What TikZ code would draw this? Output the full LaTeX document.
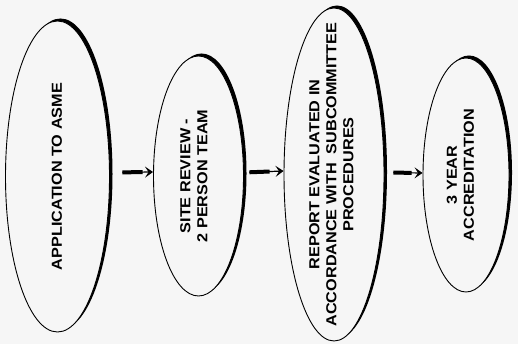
\documentclass[tikz,border=0pt]{standalone}
\usepackage{fontspec}
\setmainfont{Liberation Sans}
\usepackage{tikz}
\usetikzlibrary{arrows.meta,shapes.geometric,shadows}

\newcommand{\steplabel}[1]{\scalebox{1.12}[1]{\begin{tabular}{@{}c@{}}#1\end{tabular}}}

\begin{document}
\begin{tikzpicture}[x=1pt,y=1pt,
  stepnode/.style={ellipse,draw=black,fill=paper,line width=.9pt,inner sep=0pt,
    general shadow={fill=black,shadow xshift=3pt,shadow yshift=2.5pt}},
  steptext/.style={rotate=90,inner sep=0pt,
    font=\bfseries\fontsize{14.5}{17}\selectfont},
  flowbar/.style={line width=4pt},
  flowline/.style={line width=1.2pt,-{Stealth[length=8pt,width=11pt,inset=3.5pt]}}]
\definecolor{paper}{gray}{.965}
\useasboundingbox[fill=paper] (0,0) rectangle (518,344);
% the four steps
\node[stepnode,minimum width=104pt,minimum height=311pt] (app) at (57.5,167.5) {};
\node[stepnode,minimum width=90pt,minimum height=240pt] (site) at (198.5,168) {};
\node[stepnode,minimum width=100pt,minimum height=333pt] (report) at (334,169.5) {};
\node[stepnode,minimum width=86pt,minimum height=234pt] (accr) at (466,169) {};
\node[steptext] (app-t) at ([xshift=1pt]app.center) {\steplabel{APPLICATION\ TO\ ASME}};
\node[steptext] (site-t) at ([xshift=-3pt]site.center) {\steplabel{SITE REVIEW -\\2 PERSON TEAM}};
\node[steptext] (report-t) at ([xshift=-1pt]report.center) {\steplabel{REPORT EVALUATED IN\\ACCORDANCE WITH\ \ SUBCOMMITTEE\\PROCEDURES}};
\node[steptext] (accr-t) at ([xshift=-4pt]accr.center) {\steplabel{3 YEAR\\ACCREDITATION}};
% arrows
\draw[flowbar,shorten <=12.5pt,shorten >=10.5pt] ([yshift=4pt]app.east) -- ([yshift=4pt]site.west);
\draw[flowline,shorten <=12.5pt] ([yshift=4pt]app.east) -- ([yshift=4pt]site.west);
\draw[flowbar,shorten <=5.5pt,shorten >=14pt] ([yshift=3.5pt]site.east) -- ([yshift=3.5pt]report.west);
\draw[flowline,shorten <=5.5pt] ([yshift=3.5pt]site.east) -- ([yshift=3.5pt]report.west);
\draw[flowbar,shorten <=9pt,shorten >=11pt] ([yshift=2pt]report.east) -- ([yshift=2pt]accr.west);
\draw[flowline,shorten <=9pt] ([yshift=2pt]report.east) -- ([yshift=2pt]accr.west);
\end{tikzpicture}
\end{document}
